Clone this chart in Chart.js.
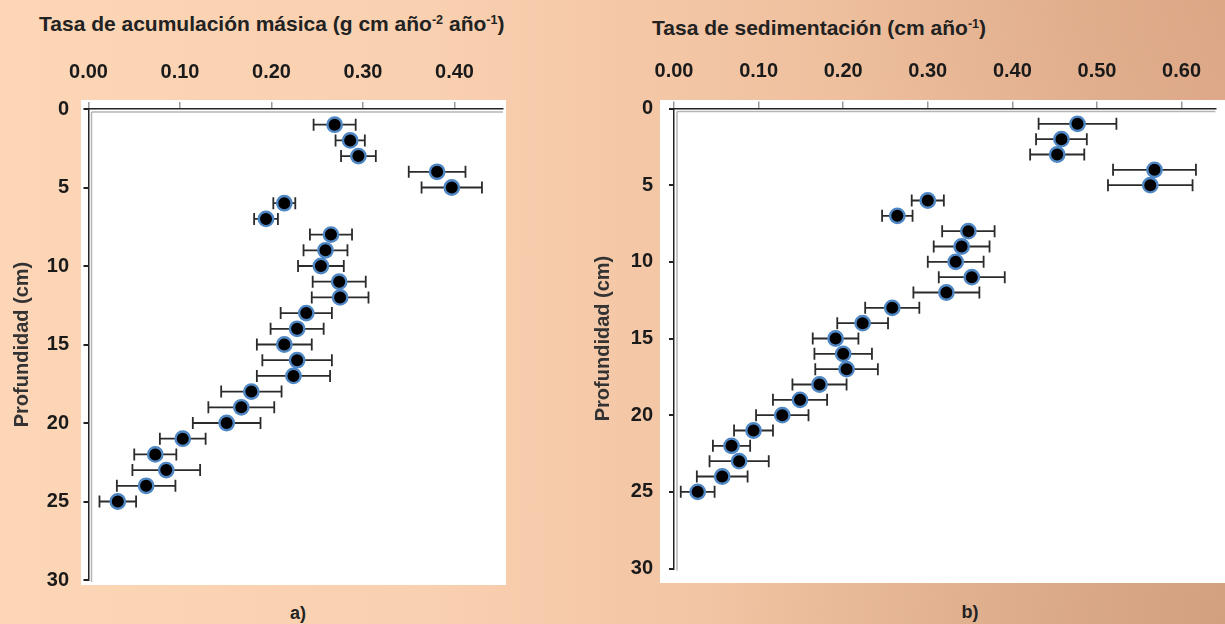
<!DOCTYPE html>
<html>
<head>
<meta charset="utf-8">
<script src="https://cdn.jsdelivr.net/npm/chart.js@4.4.1/dist/chart.umd.min.js"></script>
<style>
  html, body { margin:0; padding:0; }
  body {
    width:1225px; height:624px; overflow:hidden; position:relative;
    font-family:'Liberation Sans', Arial, sans-serif;
    background:
      radial-gradient(ellipse 520px 300px at 1225px 624px, rgba(200,150,115,0.55), rgba(200,150,115,0) 100%),
      radial-gradient(ellipse 420px 260px at 1225px 0px, rgba(215,160,125,0.45), rgba(215,160,125,0) 100%),
      linear-gradient(90deg, #fcd6b6 0%, #f9d0b0 35%, #f3c6a5 55%, #ecbd9b 75%, #dfac8c 100%);
  }
  .panel { position:absolute; background:#fff; }
  .ttl { position:absolute; font-weight:bold; font-size:21px; line-height:21px; color:#222; white-space:nowrap; }
  .ttl sup { font-size:0.6em; vertical-align:0.55em; line-height:0; }
  .lbl { position:absolute; font-weight:bold; font-size:18px; line-height:18px; color:#222; transform:translateX(-50%); }
  canvas { position:absolute; top:0; }
</style>
</head>
<body>
<div class="panel" style="left:81px; top:100px; width:425px; height:485px;"></div>
<div class="panel" style="left:660px; top:100px; width:565px; height:483px;"></div>
<div class="ttl" style="left:39px; top:13px;">Tasa de acumulación másica (g cm año<sup>-2</sup> año<sup>-1</sup>)</div>
<div class="ttl" style="left:652px; top:17px;">Tasa de sedimentación (cm año<sup>-1</sup>)</div>
<div class="lbl" style="left:298px; top:604px;">a)</div>
<div class="lbl" style="left:970px; top:603px;">b)</div>
<canvas id="ca" width="590" height="624" style="left:0px;"></canvas>
<canvas id="cb" width="635" height="624" style="left:590px;"></canvas>
<script>
// ---- data ----
const depths = [1,2,3,4,5,6,7,8,9,10,11,12,13,14,15,16,17,18,19,20,21,22,23,24,25];
const massRate = [0.269,0.286,0.295,0.381,0.397,0.214,0.194,0.265,0.259,0.254,0.274,0.275,0.238,0.228,0.214,0.228,0.224,0.178,0.167,0.151,0.103,0.073,0.085,0.063,0.032];
const massErr  = [0.023,0.016,0.019,0.031,0.033,0.012,0.013,0.023,0.024,0.025,0.029,0.031,0.028,0.029,0.030,0.038,0.040,0.033,0.036,0.037,0.025,0.023,0.037,0.032,0.020];
const sedRate  = [0.477,0.458,0.453,0.568,0.563,0.300,0.264,0.348,0.340,0.333,0.352,0.322,0.258,0.223,0.191,0.200,0.204,0.172,0.149,0.128,0.094,0.068,0.077,0.057,0.028];
const sedErr   = [0.046,0.030,0.032,0.049,0.050,0.019,0.018,0.031,0.033,0.033,0.039,0.039,0.032,0.030,0.027,0.034,0.037,0.032,0.032,0.031,0.023,0.022,0.035,0.030,0.020];
const xTicksA = [0.00,0.10,0.20,0.30,0.40];
const xTicksB = [0.00,0.10,0.20,0.30,0.40,0.50,0.60];
const yTicks = [0,5,10,15,20,25,30];
const yTitle = 'Profundidad (cm)';

Chart.defaults.font.family = "'Liberation Sans', Arial, sans-serif";

const errorBars = {
  id:'errorBars',
  beforeDatasetsDraw(chart){
    const {ctx, scales:{x, y}} = chart;
    chart.data.datasets.forEach(ds => {
      if (!ds.errors) return;
      ctx.save();
      ctx.strokeStyle = '#2b2b2b';
      ctx.lineWidth = 1.8;
      ds.data.forEach((p, i) => {
        const e = ds.errors[i];
        const yp = y.getPixelForValue(p.y);
        const x1 = x.getPixelForValue(p.x - e), x2 = x.getPixelForValue(p.x + e);
        ctx.beginPath();
        ctx.moveTo(x1, yp); ctx.lineTo(x2, yp);
        ctx.moveTo(x1, yp - 6); ctx.lineTo(x1, yp + 6);
        ctx.moveTo(x2, yp - 6); ctx.lineTo(x2, yp + 6);
        ctx.stroke();
      });
      ctx.restore();
    });
  }
};
const doubleAxis = {
  id:'doubleAxis',
  afterDraw(chart){
    const {ctx, chartArea:a} = chart;
    ctx.save();
    ctx.strokeStyle = '#b5b5b5';
    ctx.lineWidth = 1.5;
    ctx.beginPath();
    ctx.moveTo(a.left + 3, a.top + 3); ctx.lineTo(a.right, a.top + 3);
    ctx.moveTo(a.left + 3, a.top + 3); ctx.lineTo(a.left + 3, a.bottom + 2);
    ctx.stroke();
    ctx.restore();
  }
};

function makeChart(id, rates, errs, xTicks, xMax, cfg){
  const tickFont = {size:20, weight:'bold'};
  return new Chart(document.getElementById(id), {
    type:'scatter',
    data:{ datasets:[{
      data: depths.map((d, i) => ({x: rates[i], y: d})),
      errors: errs,
      pointRadius: 7.2,
      pointHoverRadius: 7.2,
      pointBackgroundColor:'#000',
      pointBorderColor:'#4f87c5',
      pointBorderWidth: 2.4
    }]},
    options:{
      responsive:false,
      animation:false,
      devicePixelRatio:1,
      layout:{ padding: cfg.padding },
      plugins:{ legend:{display:false}, tooltip:{enabled:false} },
      scales:{
        x:{
          type:'linear', position:'top', min:0, max:xMax,
          afterBuildTicks: s => { s.ticks = xTicks.map(v => ({value:v})); },
          afterFit: s => { s.height = cfg.top; },
          ticks:{ font:tickFont, color:'#1a1a1a', padding:18, callback: v => Number(v).toFixed(2) },
          grid:{ drawOnChartArea:false, tickLength:7, color:'#9a9a9a', lineWidth:1.5 },
          border:{ color:'#222', width:1.5 }
        },
        y:{
          type:'linear', reverse:true, min:0, max:30,
          afterBuildTicks: s => { s.ticks = yTicks.map(v => ({value:v})); },
          afterFit: s => { s.width = cfg.left; },
          ticks:{ font:tickFont, color:'#1a1a1a', padding:cfg.yPad },
          grid:{ drawOnChartArea:false, tickLength:5, color:'#222', lineWidth:2 },
          border:{ color:'#222', width:1.5 },
          title:{ display:true, text:yTitle, color:'#333', font:{size:20, weight:'bold'}, padding:{top:cfg.titlePad, bottom:0} }
        }
      }
    },
    plugins:[errorBars, doubleAxis]
  });
}

makeChart('ca', massRate, massErr, xTicksA, 0.453,
  {padding:{left:0, top:0, right:87, bottom:44}, top:109, left:88.5, yPad:14.5, titlePad:10.5});
makeChart('cb', sedRate, sedErr, xTicksB, 0.64,
  {padding:{left:0, top:0, right:0, bottom:55.5}, top:108.5, left:84, yPad:16, titlePad:1});
</script>
</body>
</html>
